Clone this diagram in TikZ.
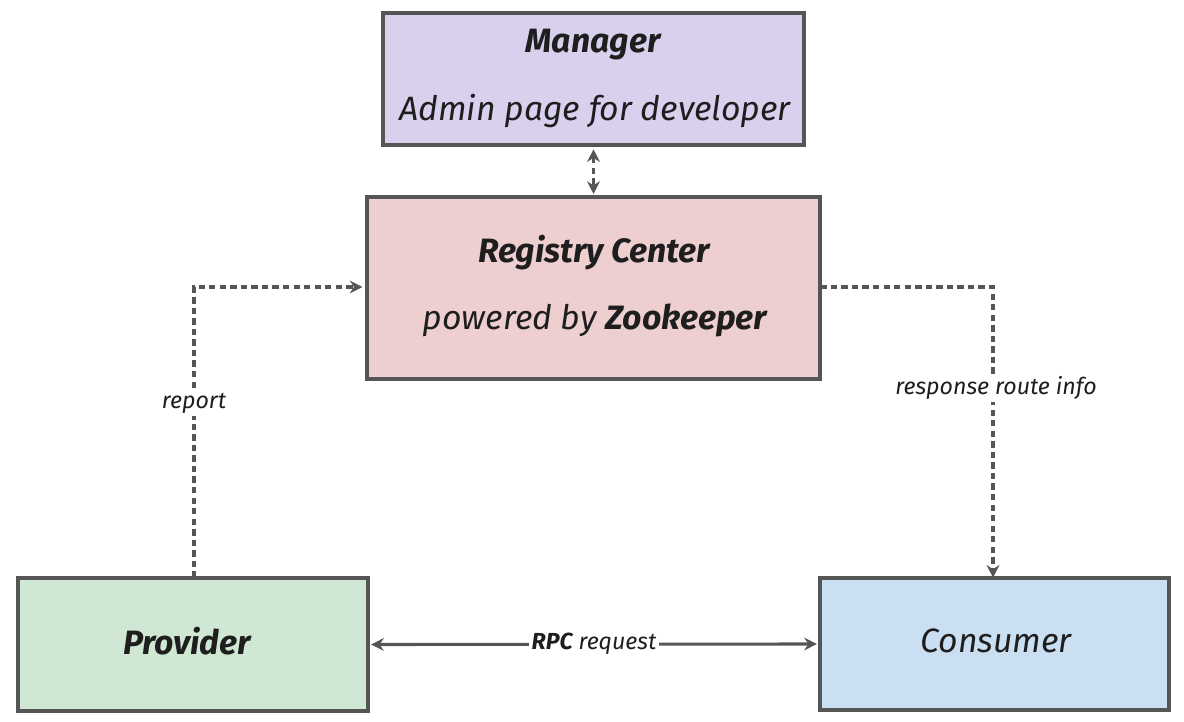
\documentclass[tikz,border=0pt]{standalone}
\usepackage{fontspec}
\setmainfont{Fira Sans}
\usetikzlibrary{arrows.meta}
\definecolor{edge}{HTML}{555555}
\definecolor{mgrfill}{HTML}{D9D0EE}
\definecolor{regfill}{HTML}{EECFD0}
\definecolor{provfill}{HTML}{D0E7D3}
\definecolor{consfill}{HTML}{CBDFF2}
\definecolor{txt}{HTML}{1E1E1E}
\tikzset{
  box/.style={draw=edge, line width=2.6pt, inner sep=0pt},
  conn/.style={draw=edge, line width=2.2pt, -{Stealth[length=9pt,width=9pt]}},
  dconn/.style={conn, line width=2.4pt, dash pattern=on 4.5pt off 3pt},
  lbl/.style={fill=white, inner sep=2pt, text=txt, font=\fontsize{16.5}{18}\selectfont\itshape},
  btxt/.style={text=txt, font=\fontsize{24}{28}\selectfont\bfseries\itshape},
  ntxt/.style={text=txt, font=\fontsize{24}{28}\selectfont\itshape}
}
\begin{document}
\begin{tikzpicture}[x=0.025cm,y=-0.025cm]
\useasboundingbox (0,0) rectangle (1184,722);
% boxes
\path[box, fill=mgrfill] (383,13) rectangle (804,145);
\node (mgr) at (593.5,79) [minimum width=421*0.025cm, minimum height=132*0.025cm] {};
\node[btxt] at (593,45) {Manager};
\node[ntxt] at (595,111) {Admin page for developer};

\path[box, fill=regfill] (367,197) rectangle (820,379);
\node (reg) at (593.5,288) [minimum width=453*0.025cm, minimum height=182*0.025cm] {};
\node[btxt] at (594,253) {Registry Center};
\node[ntxt] at (595,320) {powered by {\bfseries Zookeeper}};

\path[box, fill=provfill] (18,578) rectangle (368,711);
\node (prov) at (193,644.5) [minimum width=350*0.025cm, minimum height=133*0.025cm] {};
\node[btxt] at (187,641) {Provider};

\path[box, fill=consfill] (820,578) rectangle (1169,710);
\node (cons) at (994.5,644) [minimum width=349*0.025cm, minimum height=132*0.025cm] {};
\node[ntxt] at (996,641) {Consumer};

% connectors
\draw[dconn, {Stealth[length=9pt,width=9pt]}-{Stealth[length=9pt,width=9pt]}] (mgr.south) ++(0,4) coordinate (m1) (m1) -- (reg.north |- 0,194);
\coordinate (rl) at (reg.west |- 0,287);
\coordinate (rr) at (reg.east |- 0,287);
\draw[dconn] (prov.north -| 194,0) -- (194,287) -- ([xshift=-3pt]rl);
\node[lbl] at (194,403) {report};
\draw[dconn] (rr) -- (993,287) -- (cons.north -| 993,0);
\node[lbl] at (996,388) {response route info};
\draw[conn, {Stealth[length=9pt,width=9pt]}-{Stealth[length=9pt,width=9pt]}] ([xshift=2pt]prov.east) -- node[lbl]{{\bfseries RPC} request} ([xshift=-2pt]cons.west);
\end{tikzpicture}
\end{document}
